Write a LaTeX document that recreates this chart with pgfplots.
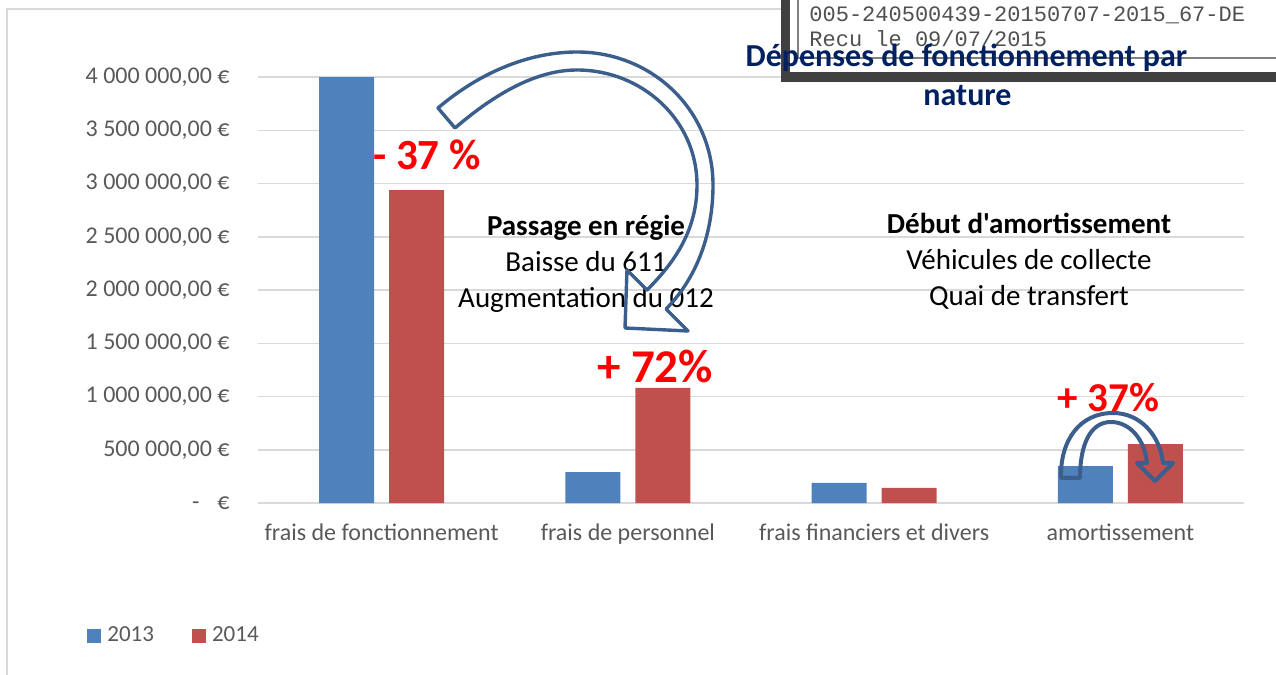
\documentclass[border=0pt]{standalone}
\usepackage{pgfplots}
\pgfplotsset{compat=1.18}
\usepackage{fontspec}
\setmainfont{Carlito}[Ligatures=TeXOff]
\newfontfamily\monofont{Liberation Mono}
\definecolor{blue13}{HTML}{4F81BD}
\definecolor{red14}{HTML}{C0504D}
\definecolor{gridc}{HTML}{D9D9D9}
\definecolor{labc}{HTML}{595959}
\definecolor{navy}{HTML}{002060}
\definecolor{arrowc}{HTML}{3B5E8C}
\definecolor{stampc}{HTML}{404040}
\definecolor{stamptext}{HTML}{505050}
\begin{document}
\begin{tikzpicture}
\useasboundingbox (0,0) rectangle (638pt,337.5pt);
\begin{scope}[x=0.5pt,y=-0.5pt,yshift=337.5pt]
\draw[gridc, line width=0.75pt] (7,675) -- (7,9) -- (781,9);
\end{scope}
\begin{axis}[
  at={(129.25pt,86pt)}, anchor=south west,
  scale only axis, width=492.5pt, height=213pt,
  xmin=-0.5, xmax=3.5, ymin=0, ymax=4000000,
  clip=false,
  axis line style={draw=none},
  tick style={draw=none},
  ymajorgrids, major grid style={gridc, line width=0.75pt},
  ytick={0,500000,1000000,1500000,2000000,2500000,3000000,3500000,4000000},
  scaled y ticks=false,
  yticklabels={{-\hspace{9pt}€},{500 000,00 €},{1 000 000,00 €},{1 500 000,00 €},{2 000 000,00 €},{2 500 000,00 €},{3 000 000,00 €},{3 500 000,00 €},{4 000 000,00 €}},
  yticklabel style={font=\fontsize{12}{14}\selectfont, text=labc, anchor=east, inner sep=0pt, xshift=-14.25pt},
  xtick={0,1,2,3},
  xticklabels={frais de fonctionnement, frais de personnel, frais financiers et divers, amortissement},
  xticklabel style={font=\fontsize{12}{14}\selectfont, text=labc, anchor=base, inner sep=0pt, yshift=-18.5pt},
  legend style={at={(-0.1741,-0.3122)}, anchor=west, draw=none, fill=none, inner sep=0pt,
    font=\fontsize{11.5}{13}\selectfont, text=labc, legend columns=2,
    /tikz/every odd column/.append style={column sep=1pt},
    /tikz/every even column/.append style={column sep=17pt}},
  legend cell align=left,
  legend image code/.code={\fill[#1] (0pt,-3.5pt) rectangle (7pt,3.5pt);},
]
\addplot[ybar, bar width=27.5pt, bar shift=-17.5pt, fill=blue13, draw=none]
  coordinates {(0,4000000) (1,291000) (2,188000) (3,347000)};
\addplot[ybar, bar width=27.5pt, bar shift=17.5pt, fill=red14, draw=none]
  coordinates {(0,2939000) (1,1080000) (2,141000) (3,554000)};
\legend{2013,2014}
\end{axis}
\begin{scope}[x=0.5pt,y=-0.5pt,yshift=337.5pt]
% percentage labels
\node[anchor=base, text=red, font=\bfseries\fontsize{21.5}{24}\selectfont, inner sep=0pt] at (427,170) {- 37 \%};
\node[anchor=base, text=red, font=\bfseries\fontsize{23.5}{26}\selectfont, inner sep=0pt] at (655,383) {+ 72\%};
\node[anchor=base, text=red, font=\bfseries\fontsize{20.5}{23}\selectfont, inner sep=0pt] at (1108.5,412) {+ 37\%};
% annotations
\node[anchor=base, font=\bfseries\fontsize{14.5}{17}\selectfont, inner sep=0pt] at (586,236) {Passage en régie};
\node[anchor=base, font=\fontsize{14.5}{17}\selectfont, inner sep=0pt] at (586,272) {Baisse du 611};
\node[anchor=base, font=\fontsize{14.5}{17}\selectfont, inner sep=0pt] at (586,308) {Augmentation du 012};
\node[anchor=base, font=\bfseries\fontsize{14.5}{17}\selectfont, inner sep=0pt] at (1029,234) {Début d'amortissement};
\node[anchor=base, font=\fontsize{14.5}{17}\selectfont, inner sep=0pt] at (1029,270) {Véhicules de collecte};
\node[anchor=base, font=\fontsize{14.5}{17}\selectfont, inner sep=0pt] at (1029,306) {Quai de transfert};
% big curved arrow
\draw[arrowc, line width=1.7pt, line join=round]
  (438,108) .. controls (478,74) and (527,52) .. (577,52)
  .. controls (652,52) and (713,110) .. (713,185)
  .. controls (713,235) and (696,279) .. (666,309)
  -- (688,331) -- (625,328) -- (627,270) -- (647,290)
  .. controls (675,262) and (697,230) .. (697,185)
  .. controls (697,120) and (642,70) .. (577,70)
  .. controls (532,70) and (489,99) .. (455,128) -- cycle;
% small curved arrow
\draw[arrowc, line width=2pt, line join=round]
  (1061,478) .. controls (1060,440) and (1080,413) .. (1113,413)
  .. controls (1140,413) and (1160,435) .. (1163,463)
  -- (1173,463) -- (1155,481) -- (1137,463) -- (1147,463)
  .. controls (1145,440) and (1130,422) .. (1111,422)
  .. controls (1090,422) and (1080,445) .. (1080,478) -- cycle;
% stamp
\fill[white] (781,-2) rectangle (1280,82);
\fill[stampc] (781,-2) rectangle (790,82);
\fill[stampc] (781,72) rectangle (1280,82);
\draw[gray, line width=0.75pt] (798,-2) -- (798,58) -- (1280,58);
\node[anchor=base west, font=\monofont\fontsize{11}{13}\selectfont, text=stamptext, inner sep=0pt] at (809,22) {005-240500439-20150707-2015\_67-DE};
\node[anchor=base west, font=\monofont\fontsize{11}{13}\selectfont, text=stamptext, inner sep=0pt] at (809,47) {Recu le 09/07/2015};
% title
\node[anchor=base, font=\bfseries\fontsize{16}{19}\selectfont, text=navy, inner sep=0pt] at (966.5,67) {Dépenses de fonctionnement par};
\node[anchor=base, font=\bfseries\fontsize{16}{19}\selectfont, text=navy, inner sep=0pt] at (967.5,106) {nature};
\end{scope}
\end{tikzpicture}
\end{document}
